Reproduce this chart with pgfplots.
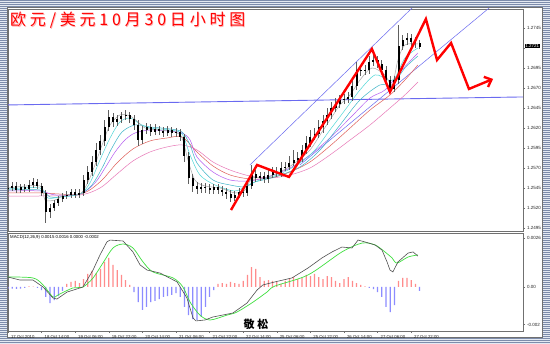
\documentclass[border=0pt]{standalone}
\usepackage{fontspec}
\setmainfont{Liberation Sans}
\newfontfamily\cjk{Noto Sans CJK SC}
\usepackage{pgfplots}
\usepackage{pgfplotstable}
\pgfplotsset{compat=1.18}
\usetikzlibrary{patterns.meta,arrows.meta}
\definecolor{stripe}{HTML}{7D8CAB}
\definecolor{stripebg}{HTML}{E4E9F2}
\definecolor{maGray}{HTML}{A8A8A8}
\definecolor{maCyan}{HTML}{50D8D8}
\definecolor{maTeal}{HTML}{3CB4C8}
\definecolor{maViolet}{HTML}{B45AF0}
\definecolor{maRed}{HTML}{E0605A}
\definecolor{maPink}{HTML}{E878B8}
\definecolor{histpos}{HTML}{FF8C8C}
\definecolor{histneg}{HTML}{8C8CFF}
\definecolor{macdline}{HTML}{505050}
\definecolor{sigline}{HTML}{40E040}
\definecolor{chanblue}{HTML}{6A6AF0}
\definecolor{wick}{HTML}{606060}
\definecolor{axisgray}{HTML}{707070}
\newcommand{\tg}{\hspace{3.8pt}}
\newcommand{\titletext}{欧\tg 元\tg /\tg 美\tg 元\tg 1\tg 0\tg 月\tg 3\tg 0\tg 日\tg 小\tg 时\tg 图}

\pgfplotstableread{
i o h l c
0 1.25438 1.25488 1.25400 1.25450
2 1.25450 1.25525 1.25413 1.25475
4 1.25475 1.25525 1.25388 1.25425
6 1.25425 1.25500 1.25388 1.25463
8 1.25463 1.25500 1.25400 1.25438
10 1.25438 1.25550 1.25400 1.25488
12 1.25488 1.25575 1.25450 1.25525
14 1.25525 1.25563 1.25438 1.25475
16 1.25475 1.25513 1.25350 1.25388
18 1.25388 1.25425 1.25013 1.25150
20 1.25150 1.25250 1.25075 1.25200
22 1.25200 1.25300 1.25163 1.25263
24 1.25263 1.25350 1.25225 1.25313
26 1.25313 1.25388 1.25275 1.25350
28 1.25350 1.25413 1.25313 1.25363
30 1.25363 1.25438 1.25325 1.25400
32 1.25400 1.25438 1.25325 1.25363
34 1.25363 1.25438 1.25325 1.25388
36 1.25388 1.25613 1.25350 1.25550
38 1.25550 1.25725 1.25500 1.25650
40 1.25650 1.25850 1.25600 1.25775
42 1.25775 1.26013 1.25725 1.25925
44 1.25925 1.26113 1.25863 1.26038
46 1.26038 1.26300 1.25975 1.26213
48 1.26213 1.26425 1.26163 1.26338
50 1.26338 1.26388 1.26213 1.26275
52 1.26275 1.26363 1.26225 1.26313
54 1.26313 1.26400 1.26263 1.26350
56 1.26350 1.26425 1.26300 1.26363
58 1.26363 1.26400 1.26263 1.26313
60 1.26313 1.26363 1.26175 1.26238
62 1.26238 1.26300 1.25975 1.26050
64 1.26050 1.26225 1.26000 1.26175
66 1.26175 1.26263 1.26125 1.26213
68 1.26213 1.26250 1.26100 1.26150
70 1.26150 1.26250 1.26113 1.26188
72 1.26188 1.26225 1.26113 1.26163
74 1.26163 1.26213 1.26088 1.26138
76 1.26138 1.26225 1.26100 1.26175
78 1.26175 1.26213 1.26088 1.26138
80 1.26138 1.26200 1.26088 1.26150
82 1.26150 1.26188 1.26038 1.26088
84 1.26088 1.26125 1.25775 1.25850
86 1.25850 1.25900 1.25500 1.25575
88 1.25575 1.25625 1.25400 1.25475
90 1.25475 1.25525 1.25375 1.25438
92 1.25438 1.25513 1.25388 1.25463
94 1.25463 1.25513 1.25388 1.25450
96 1.25450 1.25500 1.25375 1.25425
98 1.25425 1.25500 1.25375 1.25463
100 1.25463 1.25500 1.25375 1.25425
102 1.25425 1.25475 1.25350 1.25400
104 1.25400 1.25450 1.25313 1.25375
106 1.25375 1.25425 1.25275 1.25325
108 1.25325 1.25413 1.25288 1.25363
110 1.25363 1.25450 1.25325 1.25400
112 1.25400 1.25450 1.25338 1.25388
114 1.25388 1.25525 1.25350 1.25475
116 1.25475 1.25738 1.25438 1.25625
118 1.25625 1.25675 1.25525 1.25575
120 1.25575 1.25650 1.25538 1.25600
122 1.25600 1.25650 1.25513 1.25563
124 1.25563 1.25675 1.25513 1.25613
126 1.25613 1.25713 1.25575 1.25650
128 1.25650 1.25713 1.25588 1.25638
130 1.25638 1.25775 1.25588 1.25700
132 1.25700 1.25775 1.25663 1.25713
134 1.25713 1.25850 1.25675 1.25763
136 1.25763 1.25925 1.25725 1.25800
138 1.25800 1.25900 1.25750 1.25825
140 1.25825 1.25988 1.25775 1.25925
142 1.25925 1.26100 1.25875 1.26013
144 1.26013 1.26175 1.25963 1.26088
146 1.26088 1.26200 1.26050 1.26125
148 1.26125 1.26300 1.26075 1.26213
150 1.26213 1.26363 1.26138 1.26288
152 1.26288 1.26450 1.26238 1.26363
154 1.26363 1.26525 1.26313 1.26450
156 1.26450 1.26575 1.26400 1.26500
158 1.26500 1.26613 1.26450 1.26550
160 1.26550 1.26625 1.26500 1.26563
162 1.26563 1.26650 1.26513 1.26588
164 1.26588 1.26800 1.26538 1.26725
166 1.26725 1.27025 1.26675 1.26925
168 1.26925 1.26988 1.26850 1.26913
170 1.26913 1.26988 1.26863 1.26925
172 1.26925 1.27100 1.26875 1.27025
174 1.27025 1.27113 1.26975 1.27050
176 1.27050 1.27100 1.26950 1.27000
178 1.27000 1.27050 1.26875 1.26925
180 1.26925 1.26975 1.26750 1.26800
182 1.26800 1.26850 1.26638 1.26688
184 1.26688 1.26850 1.26650 1.26800
186 1.26800 1.27488 1.26750 1.27225
188 1.27225 1.27363 1.27175 1.27300
190 1.27300 1.27388 1.27238 1.27325
192 1.27325 1.27375 1.27225 1.27275
194 1.27275 1.27338 1.27200 1.27263
196 1.27263 1.27300 1.27188 1.27213
}\candles

\begin{document}
\begin{tikzpicture}[x=1pt,y=1pt]
% window frame
\fill[stripebg] (0,0) rectangle (550,344);
\fill[pattern={Lines[angle=0,distance=2pt,line width=0.9pt]}, pattern color=stripe] (0,0) rectangle (550,344);
\fill[white] (8,7) rectangle (542,336);
\draw[axisgray, line width=0.6pt] (7.7,6.7) rectangle (542.3,336.3);

% ---------------- main price panel ----------------
\begin{axis}[
  at={(8pt,113pt)}, anchor=south west,
  scale only axis, width=515pt, height=222pt,
  xmin=0, xmax=245.24, ymin=1.249125, ymax=1.276875,
  scaled y ticks=false, scaled x ticks=false,
  axis line style={draw=axisgray, line width=0.6pt},
  xtick=\empty,
  ytick={1.2495,1.2520,1.2545,1.2570,1.2595,1.2620,1.2645,1.2670,1.2695,1.2720,1.2745},
  yticklabels={1.2495,1.2520,1.2545,1.2570,1.2595,1.2620,1.2645,1.2670,1.2695,,1.2745},
  ytick pos=right, yticklabel pos=right,
  tick align=outside, major tick length=2pt,
  tick style={axisgray, line width=0.4pt},
  yticklabel style={font=\fontsize{4.5}{5}\selectfont, anchor=west, xshift=-1.5pt, text=black!85},
  clip=true,
]
% horizontal blue line
\addplot[chanblue, line width=0.9pt, mark=none] coordinates {(0,1.26488) (245.24,1.26588)};
% channel lines
\addplot[chanblue, line width=0.5pt, mark=none] coordinates {(115.2,1.25738) (200,1.27893)};
\addplot[chanblue, line width=0.5pt, mark=none] coordinates {(139.0,1.25738) (232,1.27763)};
% moving averages (slow to fast)
\addplot[maPink, line width=0.5pt, mark=none, smooth] coordinates {
(0,1.2535) (15.2,1.2535) (34.3,1.25363) (43.8,1.2545) (51.9,1.25625) (59.5,1.25788) (67.6,1.259) (75.7,1.25963) (82.9,1.25988) (90.0,1.25925) (97.6,1.25775) (105.7,1.25675) (115.2,1.256) (124.8,1.25575) (134.3,1.25613) (143.8,1.257) (153.3,1.25863) (162.9,1.2605) (172.4,1.26238) (181.9,1.2645) (189.0,1.26613) (195.2,1.26775)};
\addplot[maRed, line width=0.5pt, mark=none, smooth] coordinates {
(0,1.25388) (15.2,1.25388) (34.3,1.25375) (43.8,1.25525) (51.9,1.25763) (59.5,1.25938) (67.6,1.26038) (75.7,1.26075) (82.9,1.26088) (90.0,1.259) (97.6,1.25725) (105.7,1.25613) (115.2,1.25563) (124.8,1.25575) (134.3,1.2565) (143.8,1.25775) (153.3,1.25975) (162.9,1.262) (172.4,1.26425) (181.9,1.26613) (189.0,1.268) (195.2,1.26988)};
\addplot[maViolet, line width=0.5pt, mark=none, smooth] coordinates {
(0,1.25413) (15.2,1.25413) (22.4,1.25363) (34.3,1.25375) (41.4,1.25513) (46.2,1.257) (51.0,1.259) (55.7,1.2605) (60.5,1.26138) (67.6,1.26175) (75.7,1.26163) (82.9,1.26138) (86.7,1.2605) (90.0,1.25838) (97.6,1.2565) (105.7,1.2555) (115.2,1.25538) (124.8,1.256) (134.3,1.257) (143.8,1.25863) (153.3,1.26075) (162.9,1.26325) (172.4,1.26575) (179.5,1.26675) (186.7,1.269) (195.2,1.27138)};
\addplot[maTeal, line width=0.5pt, mark=none, smooth] coordinates {
(0,1.25425) (15.2,1.25425) (20.0,1.25338) (24.8,1.25338) (34.3,1.25375) (40.0,1.25488) (44.8,1.257) (49.5,1.2595) (54.3,1.2615) (60.5,1.26238) (67.6,1.26213) (77.1,1.26188) (82.9,1.2615) (86.7,1.25988) (90.0,1.25763) (97.6,1.2555) (105.7,1.25488) (112.9,1.25463) (117.6,1.25525) (127.1,1.25588) (139.0,1.25713) (148.6,1.25925) (158.1,1.26238) (167.6,1.2655) (177.1,1.26738) (182.9,1.26738) (189.0,1.2695) (195.2,1.271)};
\addplot[maCyan, line width=0.5pt, mark=none, smooth] coordinates {
(0,1.25438) (15.2,1.2545) (19.0,1.25325) (24.8,1.25338) (34.3,1.25375) (39.0,1.25513) (43.8,1.258) (48.6,1.26075) (53.3,1.26275) (58.1,1.26325) (62.9,1.2625) (67.6,1.262) (77.1,1.26175) (82.9,1.26125) (86.7,1.25863) (91.4,1.25613) (98.6,1.25488) (108.1,1.25413) (114.3,1.25488) (120.0,1.2555) (129.5,1.25625) (139.0,1.25763) (146.2,1.25925) (153.3,1.26175) (160.5,1.26425) (167.6,1.26675) (174.8,1.26863) (181.0,1.268) (184.3,1.26825) (189.0,1.27075) (195.2,1.272)};
\addplot[maGray, line width=0.5pt, mark=none, smooth] coordinates {
(0,1.2545) (15.2,1.25475) (17.6,1.253) (22.4,1.253) (27.1,1.25363) (34.3,1.25375) (38.1,1.25525) (41.4,1.25738) (44.8,1.25988) (48.6,1.26238) (53.3,1.26363) (58.1,1.2635) (61.9,1.26275) (65.2,1.262) (72.4,1.26175) (79.5,1.2615) (82.9,1.26075) (85.7,1.258) (89.0,1.2555) (93.8,1.25475) (101.0,1.2545) (108.1,1.25388) (112.9,1.25425) (116.2,1.25575) (122.4,1.25575) (129.5,1.2565) (136.7,1.25763) (143.8,1.25925) (148.6,1.26113) (153.3,1.263) (158.1,1.26488) (162.9,1.26613) (167.6,1.268) (173.3,1.2695) (179.5,1.26863) (182.9,1.26738) (185.7,1.2705) (189.0,1.27238) (195.2,1.2725)};
% candles: wicks
\addplot[draw=none, mark=none, forget plot,
  error bars/.cd, y dir=plus, y explicit, error mark=none,
  error bar style={draw=wick, line width=0.6pt}]
  table[x=i, y=l, y error expr=\thisrow{h}-\thisrow{l}] {\candles};
% candles: bodies
\addplot[draw=none, mark=none, forget plot,
  error bars/.cd, y dir=plus, y explicit, error mark=none,
  error bar style={draw=black, line width=2.1pt}]
  table[x=i, y expr={min(\thisrow{o},\thisrow{c})}, y error expr={abs(\thisrow{c}-\thisrow{o})}] {\candles};
% red forecast zigzag
\addplot[red, line width=2.4pt, mark=none, line join=miter, -{Straight Barb[length=6pt,width=11pt]}] coordinates {
(106.2,1.25175) (118.6,1.25738) (133.8,1.25588) (173.3,1.27188) (181.9,1.26650) (199.0,1.27563) (204.3,1.27050) (211.0,1.27263) (219.5,1.26688) (231.0,1.26813)};
\end{axis}

% current price label
\node[fill=black, text=white, font=\fontsize{4.5}{5}\selectfont, anchor=west, inner sep=0.7pt] at (524.5,298) {1.2721};

% ---------------- MACD panel ----------------
\begin{axis}[
  at={(8pt,13pt)}, anchor=south west,
  scale only axis, width=515pt, height=98pt,
  xmin=0, xmax=245.24, ymin=-0.002334, ymax=0.002865,
  scaled y ticks=false, scaled x ticks=false,
  axis line style={draw=axisgray, line width=0.6pt},
  xtick={0,16,...,192},
  xticklabels={17 Oct 2010,18 Oct 14:00,19 Oct 06:00,19 Oct 22:00,20 Oct 14:00,21 Oct 06:00,21 Oct 22:00,22 Oct 14:00,25 Oct 06:00,25 Oct 22:00,26 Oct 14:00,27 Oct 06:00,27 Oct 22:00},
  xtick pos=bottom,
  xticklabel style={font=\fontsize{4.3}{5}\selectfont, anchor=north west, xshift=-0.5pt, yshift=1.2pt, text=black!85},
  ytick={-0.002,0,0.0026},
  yticklabels={-0.002,0.00,0.0026},
  ytick pos=right, yticklabel pos=right,
  tick align=outside, major tick length=2pt,
  tick style={axisgray, line width=0.4pt},
  yticklabel style={font=\fontsize{4.5}{5}\selectfont, anchor=west, xshift=-1.5pt, text=black!85},
  clip=true,
]
\addplot[ybar, bar width=0.6, bar shift=0pt, fill=histpos, draw=none] coordinates {
(10,0.00003) (12,0.00002) (28,0.00016) (30,0.00027) (32,0.00032) (34,0.00021) (36,0.00042) (38,0.00069) (40,0.00085) (42,0.00074) (44,0.00096) (46,0.00133) (48,0.00154) (50,0.00117) (52,0.00090) (54,0.00064) (56,0.00037) (58,0.00011)
(100,0.00016) (102,0.00021) (104,0.00016) (106,0.00027) (108,0.00021) (110,0.00016) (112,0.00032) (114,0.00064) (116,0.00106) (118,0.00096) (120,0.00053) (122,0.00032) (124,0.00037) (126,0.00032) (128,0.00027) (130,0.00016) (132,0.00032) (134,0.00042) (136,0.00053) (138,0.00042) (140,0.00048) (142,0.00064) (144,0.00058) (146,0.00069) (148,0.00053) (150,0.00042) (152,0.00058) (154,0.00053) (156,0.00032) (158,0.00021) (160,0.00042) (162,0.00053) (164,0.00032) (166,0.00021) (168,0.00011) (170,0.00003)
(186,0.00032) (188,0.00048) (190,0.00048) (192,0.00037) (194,0.00016)};
\addplot[ybar, bar width=0.6, bar shift=0pt, fill=histneg, draw=none] coordinates {
(0,-0.00008) (2,-0.00008) (4,-0.00010) (6,-0.00008) (8,-0.00005) (14,-0.00005) (16,-0.00016) (18,-0.00053) (20,-0.00085) (22,-0.00069) (24,-0.00048) (26,-0.00021)
(60,-0.00027) (62,-0.00080) (64,-0.00122) (66,-0.00106) (68,-0.00080) (70,-0.00074) (72,-0.00064) (74,-0.00053) (76,-0.00048) (78,-0.00042) (80,-0.00032) (82,-0.00053) (84,-0.00106) (86,-0.00149) (88,-0.00170) (90,-0.00175) (92,-0.00159) (94,-0.00106) (96,-0.00053) (98,-0.00016)
(172,-0.00005) (174,-0.00011) (176,-0.00027) (178,-0.00053) (180,-0.00106) (182,-0.00133) (184,-0.00096) (196,-0.00021)};
\addplot[sigline, line width=0.7pt, mark=none, smooth] coordinates {
(0,0.00053) (11.9,0.00048) (16.7,0.00011) (21.4,-0.00053) (23.8,-0.00042) (30.9,-0.00005) (35.7,0) (40.5,0.00048) (45.2,0.00127) (50.0,0.00207) (54.8,0.00228) (59.5,0.00207) (64.3,0.00133) (69.0,0.00080) (78.6,0.00048) (83.3,0) (86.7,-0.00080) (91.4,-0.00149) (96.2,-0.00175) (104.3,-0.00149) (109.0,-0.00133) (116.7,-0.00080) (123.3,-0.00027) (127.1,0.00005) (142.9,0.00064) (159.0,0.00186) (168.6,0.00233) (174.8,0.00223) (179.5,0.00186) (182.9,0.00154) (185.2,0.00127) (190.5,0.00159) (195.2,0.00170)};
\addplot[macdline, line width=0.6pt, mark=none] coordinates {
(0,0.00053) (5.7,0.00037) (11.9,0.00037) (16.7,0.0) (21.4,-0.00058) (23.3,-0.00064) (28.1,-0.00027) (35.7,0.0) (40.5,0.00090) (43.8,0.00170) (47.1,0.00239) (48.6,0.00249) (54.8,0.00244) (59.5,0.00186) (62.9,0.00117) (66.2,0.00090) (72.4,0.00074) (80.5,0.00027) (85.2,-0.00058) (88.1,-0.00164) (89.5,-0.00180) (93.8,-0.00175) (97.6,-0.00159) (107.1,-0.00138) (113.8,-0.00085) (118.6,-0.00016) (121.4,0.00011) (127.1,0.00027) (135.2,0.00048) (142.9,0.00101) (149.5,0.00154) (154.3,0.00186) (159.0,0.00212) (163.8,0.00207) (166.7,0.00249) (170.0,0.00239) (174.8,0.00223) (178.1,0.00196) (180.5,0.00133) (181.9,0.00090) (183.3,0.00080) (185.7,0.00133) (190.5,0.00180) (192.9,0.00186) (195.2,0.00164)};
\end{axis}

% MACD caption
\node[anchor=north west, font=\fontsize{4.3}{5}\selectfont, inner sep=0pt] at (10,108.5) {MACD(12,26,9) 0.0015 0.0016 0.0000 -0.0002};

% title
\node[anchor=west, inner sep=0pt, text=red!30] at (10.8,323.2) {\cjk\fontsize{16}{16}\selectfont\titletext};
\node[anchor=west, inner sep=0pt, text=red] at (10,324) {\cjk\fontsize{16}{16}\selectfont\titletext};

% watermark
\node[inner sep=0pt] at (256,20) {\cjk\bfseries\fontsize{11}{11}\selectfont 敬\hspace{3pt}松};

\pgfresetboundingbox
\useasboundingbox (0,0) rectangle (550,344);
\end{tikzpicture}
\end{document}
